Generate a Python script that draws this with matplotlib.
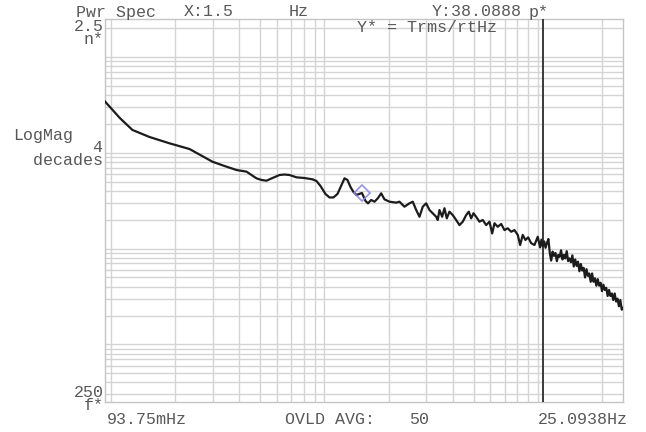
import matplotlib
matplotlib.use("Agg")
import matplotlib.pyplot as plt
from matplotlib.ticker import LogLocator, NullFormatter, NullLocator

# ---- data (frequency in Hz, magnitude in pTrms/rtHz) ----
freq_hz = [0.09375, 0.110, 0.1261, 0.1516, 0.1880, 0.2333, 0.2990, 0.3404, 0.3876, 0.4317,
           0.4556, 0.4807, 0.5074, 0.5356, 0.5713, 0.6163, 0.6503, 0.6864, 0.7403, 0.8070,
           0.8800, 0.9186, 0.9589, 1.012, 1.057, 1.103, 1.152, 1.203, 1.243, 1.283,
           1.326, 1.369, 1.414, 1.5, 1.56, 1.601, 1.657, 1.718, 1.780, 1.846,
           1.913, 2.019, 2.170, 2.249, 2.373, 2.505, 2.596, 2.694, 2.791, 2.892,
           3.000, 3.109, 3.221, 3.342, 3.400, 3.463, 3.565, 3.655, 3.747, 3.857,
           3.997, 4.146, 4.297, 4.453, 4.619, 4.751, 4.875, 4.998, 5.145, 5.331,
           5.525, 5.732, 5.940, 6.116, 6.270, 6.497, 6.740, 6.983, 7.236, 7.506,
           7.778, 8.060, 8.270, 8.506, 8.758, 9.018, 9.314, 9.652, 10.00,
           10.26, 10.41, 10.56, 10.72, 10.88, 11.05, 11.22, 11.39, 11.56, 11.74,
           11.92, 12.10, 12.29, 12.48, 12.67, 12.86, 13.06, 13.26, 13.46, 13.67,
           13.88, 14.09, 14.31, 14.53, 14.75, 14.98, 15.21, 15.44, 15.68, 15.92,
           16.16, 16.41, 16.66, 16.92, 17.18, 17.44, 17.71, 17.98, 18.26, 18.54,
           18.82, 19.11, 19.40, 19.70, 20.00, 20.31, 20.62, 20.94, 21.26, 21.58,
           21.91, 22.25, 22.59, 22.94, 23.29, 23.65, 24.01, 24.38, 24.75, 25.09]
mag_p = [344, 231.2, 173.3, 146.4, 125.8, 109.7, 80.8, 72.9, 66.2, 63.6,
         58.7, 54.2, 52.1, 51.2, 54.6, 58.7, 59.4, 58.7, 55.5, 54.6,
         52.9, 50.8, 45.1, 37.2, 34.2, 34.2, 37.2, 46.2, 54.2, 52.1,
         44.0, 39.0, 36.3, 38.09, 31.4, 29.7, 32.2, 30.9, 33.5, 37.8,
         32.7, 30.9, 30.2, 30.9, 27.4, 29.7, 30.9, 25.3, 21.5, 27.4,
         29.7, 25.3, 23.4, 21.5, 19.9, 25.3, 21.5, 26.4, 20.7, 24.3,
         22.4, 19.9, 17.6, 19.1, 22.4, 24.3, 20.7, 23.4, 21.5, 19.1,
         19.9, 17.6, 19.1, 14.4, 18.4, 16.9, 18.1, 15.6, 16.3, 15.0,
         15.6, 13.9, 10.9, 13.9, 12.3, 13.1, 11.4, 10.9, 13.3,
         10.3, 12.4, 10.6, 11.9, 10.2, 11.5, 12.6, 9.0, 7.5, 9.3,
         8.4, 9.0, 7.4, 8.6, 8.2, 9.6, 7.7, 8.6, 7.9, 9.4,
         7.4, 7.9, 7.2, 8.5, 6.5, 7.7, 6.6, 7.3, 5.8, 6.9,
         5.9, 6.3, 5.0, 6.1, 5.2, 5.5, 4.5, 5.5, 4.5, 4.9,
         4.1, 4.8, 4.1, 4.4, 3.6, 4.2, 3.7, 3.9, 3.2, 3.7,
         3.2, 3.4, 2.9, 3.4, 2.8, 3.0, 2.5, 2.9, 2.3, 2.4]

marker_x = [1.5]
marker_y = [38.0888]
cursor_x = 10.56

x_min, x_max = 0.09375, 25.0938
y_min, y_max = 0.25, 2500.0   # 250 f* .. 2.5 n*  (in p units)

W, H = 646, 432
fig = plt.figure(figsize=(W / 100, H / 100), dpi=100)
fig.patch.set_facecolor("white")
ax = fig.add_axes([105 / W, 1 - 402 / H, 518 / W, 383 / H])
ax.set_xscale("log")
ax.set_yscale("log")
ax.set_xlim(x_min, x_max)
ax.set_ylim(y_min, y_max)

grid_c = "#d4d4d4"
for axis in (ax.xaxis, ax.yaxis):
    axis.set_major_locator(LogLocator(base=10, subs=tuple(range(1, 10)), numticks=50))
    axis.set_minor_locator(NullLocator())
    axis.set_major_formatter(NullFormatter())
ax.grid(True, which="major", color=grid_c, lw=1.0)
ax.tick_params(length=0)
for s in ax.spines.values():
    s.set_color("#c4c4c4")
    s.set_linewidth(1.0)

ax.axvline(cursor_x, color="#3a3a3a", lw=1.4, zorder=3)
ax.plot(freq_hz, mag_p, color="#1c1c1c", lw=1.6, zorder=4)
ax.plot(marker_x, marker_y, marker="D", ms=8, mfc="none", mec="#8a8ae6",
        mew=1.2, alpha=0.9, zorder=5)

font = dict(family=["Liberation Mono", "DejaVu Sans Mono"], size=12.0, color="#585858")

def t(x, y, s, ha="left", **kw):
    fig.text(x / W, 1 - y / H, s, ha=ha, va="center", **font, **kw)

t(76, 12, "Pwr Spec")
t(184, 12, "X:1.5")
t(289, 12, "Hz")
t(432, 12, "Y:38.0888")
t(529, 12, "p*")
t(357, 27, "Y* = Trms/rtHz")
t(104, 33, "2.5\nn*", "right", linespacing=0.8, multialignment="right")
t(13, 148, "LogMag\n        4\n  decades", "left", linespacing=0.8)
t(104, 399, "250\nf*", "right", linespacing=0.8, multialignment="right")
t(107, 419, "93.75mHz")
t(285, 419, "OVLD AVG:")
t(409, 419, "50")
t(628, 419, "25.0938Hz", "right")

fig.savefig("out.png", dpi=100, facecolor="white")
